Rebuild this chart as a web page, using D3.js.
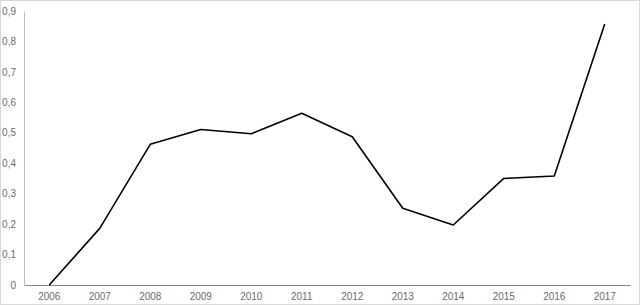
<html>
<head>
  <script src="https://d3js.org/d3.v7.min.js"></script>
  <style>
    body { margin: 0; background: #fff; }
    svg text { font-family: "Liberation Sans", Arial, sans-serif; font-size: 10px; fill: #6b6b6b; }
  </style>
</head>
<body>
  <svg id="chart" width="640" height="305"></svg>
  <script>
    const years = ["2006", "2007", "2008", "2009", "2010", "2011", "2012", "2013", "2014", "2015", "2016", "2017"];
    const values = [0, 0.186, 0.462, 0.511, 0.497, 0.564, 0.487, 0.252, 0.197, 0.350, 0.358, 0.857];
    const yTicks = [0, 0.1, 0.2, 0.3, 0.4, 0.5, 0.6, 0.7, 0.8, 0.9];

    const svg = d3.select("#chart");
    const margin = { top: 11, right: 10, bottom: 20, left: 24 };
    const width = 640 - margin.left - margin.right;
    const height = 305 - margin.top - margin.bottom;

    // outer chart border
    svg.append("rect")
      .attr("x", 0.5).attr("y", 0.5)
      .attr("width", 639).attr("height", 304)
      .attr("fill", "none")
      .attr("stroke", "#d9d9d9");

    const g = svg.append("g")
      .attr("transform", "translate(" + margin.left + "," + margin.top + ")");

    const x = d3.scaleBand().domain(years).range([0, width]);
    const y = d3.scaleLinear().domain([0, 0.9]).range([height, 0]);

    const fmt = d => d === 0 ? "0" : d3.format(".1f")(d).replace(".", ",");

    // y axis
    const yAxis = g.append("g")
      .call(d3.axisLeft(y).tickValues(yTicks).tickFormat(fmt).tickSize(0).tickPadding(8));
    yAxis.select(".domain").attr("stroke", "#bfbfbf");

    // x axis
    const xAxis = g.append("g")
      .attr("transform", "translate(0," + height + ")")
      .call(d3.axisBottom(x).tickSize(0).tickPadding(8));
    xAxis.select(".domain").attr("stroke", "#868686");

    const line = d3.line()
      .x((d, i) => x(years[i]) + x.bandwidth() / 2)
      .y(d => y(d));

    g.append("path")
      .datum(values)
      .attr("fill", "none")
      .attr("stroke", "#000")
      .attr("stroke-width", 1.6)
      .attr("stroke-linejoin", "round")
      .attr("d", line);
  </script>
</body>
</html>
